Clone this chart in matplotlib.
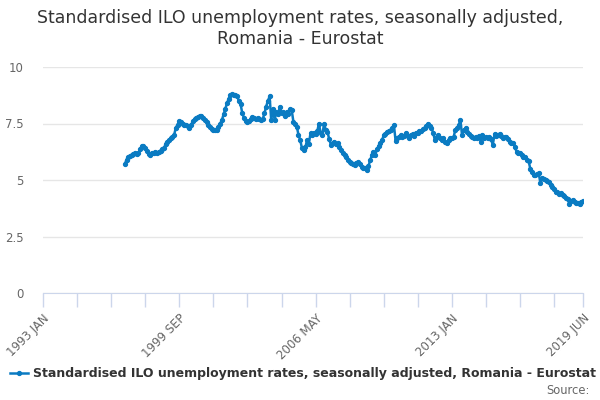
import matplotlib
matplotlib.use("Agg")
import matplotlib.pyplot as plt
import pandas as pd

# monthly values, 1997 JAN .. 2019 JUN (%)
rates = [
    # 1997
    5.7, 5.9, 6.0, 6.05, 6.1, 6.15, 6.2, 6.15, 6.2, 6.35, 6.5, 6.5,
    # 1998
    6.4, 6.3, 6.15, 6.1, 6.2, 6.2, 6.25, 6.2, 6.25, 6.3, 6.35, 6.4,
    # 1999
    6.6, 6.7, 6.75, 6.85, 6.9, 7.0, 7.3, 7.45, 7.6, 7.55, 7.5, 7.45,
    # 2000
    7.45, 7.4, 7.3, 7.45, 7.6, 7.7, 7.75, 7.8, 7.85, 7.85, 7.75, 7.65,
    # 2001
    7.55, 7.45, 7.35, 7.25, 7.2, 7.2, 7.22, 7.35, 7.5, 7.65, 7.9, 8.15,
    # 2002
    8.4, 8.6, 8.75, 8.8, 8.75, 8.75, 8.7, 8.5, 8.35, 7.95, 7.75, 7.6,
    # 2003
    7.55, 7.6, 7.7, 7.8, 7.75, 7.7, 7.75, 7.7, 7.65, 7.7, 7.95, 8.25,
    # 2004
    8.5, 8.7, 7.65, 8.15, 7.65, 8.0, 7.9, 8.25, 7.95, 8.0, 7.85, 8.02,
    # 2005
    7.9, 8.13, 8.1, 7.58, 7.5, 7.36, 7.0, 6.77, 6.4, 6.33, 6.45, 6.77,
    # 2006
    6.6, 7.07, 7.0, 7.1, 7.05, 7.15, 7.5, 7.07, 7.0, 7.5, 7.2, 7.14,
    # 2007
    6.8, 6.55, 6.65, 6.7, 6.6, 6.62, 6.45, 6.33, 6.2, 6.1, 6.0, 5.88,
    # 2008
    5.8, 5.74, 5.7, 5.66, 5.75, 5.81, 5.7, 5.59, 5.55, 5.52, 5.44, 5.6,
    # 2009
    5.88, 6.1, 6.25, 6.1, 6.35, 6.5, 6.62, 6.75, 6.99, 7.05, 7.14, 7.18,
    # 2010
    7.21, 7.3, 7.43, 6.74, 6.85, 6.92, 7.0, 6.92, 6.95, 7.09, 6.95, 6.84,
    # 2011
    7.0, 7.05, 6.95, 7.09, 7.1, 7.18, 7.15, 7.24, 7.3, 7.4, 7.5, 7.4,
    # 2012
    7.29, 7.1, 6.77, 6.9, 6.99, 6.85, 6.77, 6.85, 6.7, 6.62, 6.75, 6.84,
    # 2013
    6.84, 6.9, 7.21, 7.3, 7.43, 7.65, 6.99, 7.2, 7.29, 7.14, 7.05, 6.95,
    # 2014
    6.92, 6.84, 6.9, 6.85, 6.95, 6.7, 6.99, 6.85, 6.9, 6.85, 6.9, 6.8,
    # 2015
    6.55, 7.04, 6.95, 7.0, 7.04, 6.95, 6.84, 6.9, 6.92, 6.8, 6.7, 6.65,
    # 2016
    6.62, 6.45, 6.25, 6.2, 6.18, 6.1, 6.03, 6.0, 5.88, 5.85, 5.5, 5.37,
    # 2017
    5.2, 5.22, 5.25, 5.3, 4.85, 5.07, 5.05, 5.0, 4.95, 4.93, 4.8, 4.7,
    # 2018
    4.6, 4.48, 4.45, 4.4, 4.41, 4.35, 4.29, 4.2, 4.15, 3.94, 4.05, 4.12,
    # 2019
    4.04, 4.0, 3.97, 3.95, 4.04, 4.08,
]
dates = pd.date_range("1997-01-01", periods=len(rates), freq="MS")

tick_dates = list(pd.date_range("1993-01-01", "2019-06-01", freq="20MS")) + [pd.Timestamp("2019-06-01")]
major_labels = {"1993-01": "1993 JAN", "1999-09": "1999 SEP", "2006-05": "2006 MAY",
                "2013-01": "2013 JAN", "2019-06": "2019 JUN"}
y_ticks = [0, 2.5, 5, 7.5, 10]
y_labels = ["0", "2.5", "5", "7.5", "10"]

series_name = "Standardised ILO unemployment rates, seasonally adjusted, Romania - Eurostat"
line_color = "#0a7bc2"

fig = plt.figure(figsize=(6, 4), dpi=100)
ax = fig.add_axes([0.0717, 0.2675, 0.9, 0.565])

ax.plot(dates, rates, color=line_color, linewidth=1.8, marker="o", markersize=2.8,
        label=series_name)

ax.set_xlim(pd.Timestamp("1993-01-01"), pd.Timestamp("2019-06-01"))
ax.set_ylim(0, 10)
ax.set_yticks(y_ticks)
ax.set_yticklabels(y_labels)
ax.set_xticks(tick_dates)
ax.set_xticklabels([major_labels.get(d.strftime("%Y-%m"), "") for d in tick_dates],
                   rotation=45, ha="right", rotation_mode="anchor")

ax.grid(axis="y", color="#e6e6e6", linewidth=1)
ax.set_axisbelow(True)
for side in ["top", "right", "left"]:
    ax.spines[side].set_visible(False)
ax.spines["bottom"].set_color("#ccd6eb")
ax.tick_params(axis="x", colors="#ccd6eb", length=10, width=1, labelcolor="#666666", labelsize=8.5)
ax.tick_params(axis="y", length=0, labelcolor="#666666", labelsize=8.5, pad=14)

fig.text(0.5, 0.978, "Standardised ILO unemployment rates, seasonally adjusted,\nRomania - Eurostat",
         ha="center", va="top", fontsize=12.5, color="#333333", linespacing=1.25)

leg = fig.legend(loc="center", bbox_to_anchor=(0.505, 0.066), frameon=False, handlelength=1.4,
                 handletextpad=0.4, prop={"size": 9.0, "weight": "bold"})
for t in leg.get_texts():
    t.set_color("#333333")

fig.text(0.982, 0.008, "Source:", ha="right", va="bottom", fontsize=8.3, color="#666666")

fig.savefig("out.png", dpi=100)
